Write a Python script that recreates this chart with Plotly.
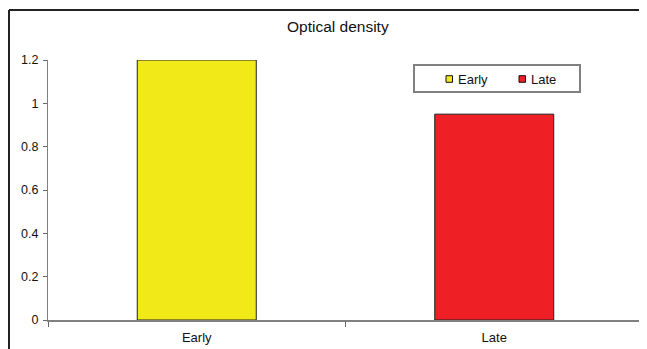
import plotly.graph_objects as go

categories = ["Early", "Late"]
values = [1.2, 0.95]
colors = ["#f2ea18", "#ee1f25"]
y_ticks = [0, 0.2, 0.4, 0.6, 0.8, 1, 1.2]
y_tick_labels = ["0", "0.2", "0.4", "0.6", "0.8", "1", "1.2"]

# the page body has an 8px margin; plot area placed at page x 48..643, y 60..320
L, T, W, H = 48, 60, 595, 260


def px(x):
    return (x - L) / W


def py(y):
    return (T + H - y) / H


fig = go.Figure()
for cat, val, col in zip(categories, values, colors):
    fig.add_trace(go.Bar(
        x=[cat], y=[val], name=cat, width=0.40, showlegend=False,
        marker=dict(color=col, line=dict(color="#222222", width=1)),
    ))

shapes = [
    dict(type="line", xref="paper", yref="paper",
         x0=px(9), x1=1.0, y0=py(10), y1=py(10),
         line=dict(color="#222222", width=2)),
    dict(type="line", xref="paper", yref="paper",
         x0=px(9), x1=px(9), y0=py(10), y1=py(360),
         line=dict(color="#222222", width=2)),
    # legend box
    dict(type="rect", xref="paper", yref="paper",
         x0=px(414), x1=px(580), y0=py(92), y1=py(65),
         line=dict(color="#808080", width=2), fillcolor="white", layer="above"),
]
annotations = []
sym_x = [446, 519]
txt_x = [456, 529]
for cat, col, sx, tx in zip(categories, colors, sym_x, txt_x):
    shapes.append(dict(type="rect", xref="paper", yref="paper",
                       x0=px(sx), x1=px(sx + 6.5), y0=py(82.3), y1=py(75.7),
                       line=dict(color="#111111", width=1), fillcolor=col, layer="above"))
    annotations.append(dict(text=cat, xref="paper", yref="paper", x=px(tx), y=py(79.5),
                            xanchor="left", yanchor="middle", showarrow=False,
                            font=dict(size=13, color="#111111")))

annotations.append(dict(text="Optical density", xref="paper", yref="paper",
                        x=px(337.5), y=py(26), xanchor="center", yanchor="middle",
                        showarrow=False, font=dict(size=15.5, color="#111111")))

fig.update_layout(
    width=647, height=349,
    margin=dict(l=L - 8, r=647 - (L + W - 8), t=T - 8, b=349 - (T + H - 8)),
    paper_bgcolor="white", plot_bgcolor="white",
    barmode="overlay",
    font=dict(family="Liberation Sans, Arial, sans-serif", size=12, color="#111111"),
    showlegend=False,
    xaxis=dict(type="category", range=[-0.5, 1.5], showgrid=False, automargin=False,
               showline=True, linecolor="#808080", linewidth=2,
               ticks="outside", tickson="boundaries", ticklen=5, tickcolor="#666666",
               ticklabelstandoff=4, tickfont=dict(size=13)),
    yaxis=dict(range=[0, 1.2], showgrid=False, zeroline=False, automargin=False,
               showline=True, linecolor="#808080", linewidth=1,
               ticks="outside", ticklen=4, tickcolor="#666666", ticklabelstandoff=2,
               tickvals=y_ticks, ticktext=y_tick_labels, tickfont=dict(size=12.5)),
    shapes=shapes,
    annotations=annotations,
)

fig.write_html("out.html")
